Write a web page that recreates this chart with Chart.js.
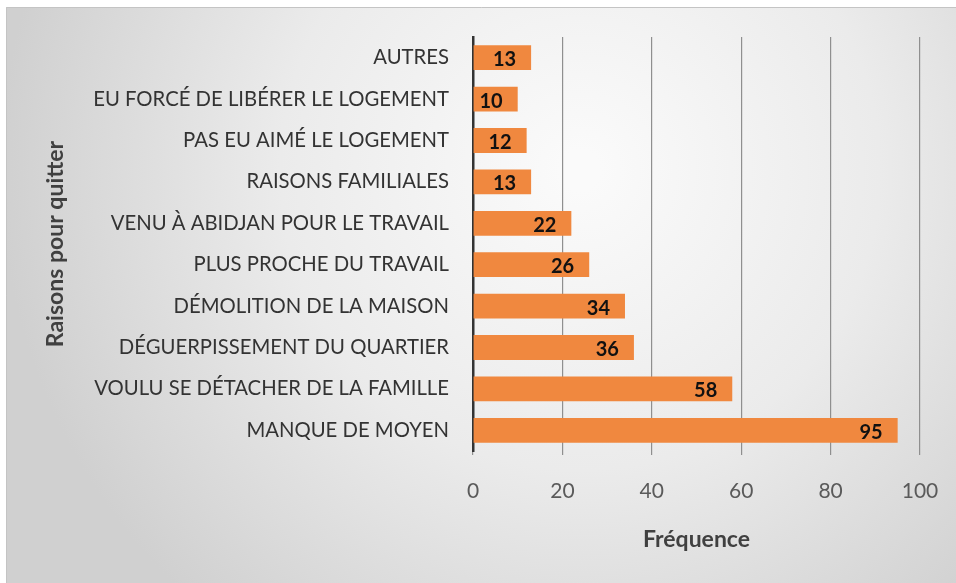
<!DOCTYPE html>
<html><head><meta charset="utf-8">
<script src="https://cdn.jsdelivr.net/npm/chart.js@4.4.1/dist/chart.umd.min.js"></script>
<style>html,body{margin:0;padding:0;background:#fff;}#wrap{width:956px;height:583px;position:relative;}</style>
</head><body><div id="wrap"><canvas id="c" width="956" height="583"></canvas></div>
<script>
const categories = ["AUTRES","EU FORCÉ DE LIBÉRER LE LOGEMENT","PAS EU AIMÉ LE LOGEMENT","RAISONS FAMILIALES","VENU À ABIDJAN POUR LE TRAVAIL","PLUS PROCHE DU TRAVAIL","DÉMOLITION DE LA MAISON","DÉGUERPISSEMENT DU QUARTIER","VOULU SE DÉTACHER DE LA FAMILLE","MANQUE DE MOYEN"];
const frequencies = [13,10,12,13,22,26,34,36,58,95];
const xTicks = [0,20,40,60,80,100];
const xTitle = "Fréquence";
const yTitle = "Raisons pour quitter";

const FONT = "Lato, 'Open Sans', sans-serif";

const bgPlugin = {
  id:'bg',
  beforeDraw(chart){
    const ctx = chart.ctx;
    const W = chart.width, H = chart.height;
    ctx.save();
    ctx.fillStyle = '#ffffff';
    ctx.fillRect(0,0,W,H);
    const g = ctx.createRadialGradient(580,170,20,580,170,580);
    g.addColorStop(0,'#fafafa');
    g.addColorStop(0.5,'#ebebeb');
    g.addColorStop(1,'#d0d0d0');
    ctx.fillStyle = g;
    ctx.fillRect(6,7,W-6,H-7);
    ctx.strokeStyle = '#c4c4c4';
    ctx.lineWidth = 1;
    ctx.beginPath();
    ctx.moveTo(6.5,H);ctx.lineTo(6.5,7.5);ctx.lineTo(W,7.5);
    ctx.stroke();
    ctx.restore();
  }
};

const labelPlugin = {
  id:'vals',
  afterDatasetsDraw(chart){
    const ctx = chart.ctx;
    const meta = chart.getDatasetMeta(0);
    ctx.save();
    ctx.font = "bold 20px " + FONT;
    ctx.fillStyle = '#111';
    ctx.textAlign = 'right';
    ctx.textBaseline = 'middle';
    meta.data.forEach((bar,i)=>{
      ctx.fillText(String(frequencies[i]), bar.x - 15, bar.y + 2);
    });
    ctx.restore();
  }
};

new Chart(document.getElementById('c'), {
  type:'bar',
  data:{ labels: categories, datasets:[{ data: frequencies, backgroundColor:'#F0883F', borderWidth:0, barPercentage:0.6, categoryPercentage:1.0 }]},
  options:{
    indexAxis:'y',
    responsive:false,
    animation:false,
    devicePixelRatio:1,
    layout:{ padding:{ left:36, right:36, top:37, bottom:20 } },
    plugins:{ legend:{display:false}, tooltip:{enabled:false} },
    scales:{
      x:{
        min:0, max:100,
        afterBuildTicks(s){ s.ticks = xTicks.map(v=>({value:v})); },
        afterFit(s){ s.height = 112; s.paddingRight = 0; s.paddingLeft = 0; },
        grid:{ color: ctx => ctx.tick && ctx.tick.value === 0 ? 'rgba(0,0,0,0)' : '#8f8f8f', lineWidth:1.2, drawTicks:true, tickLength:4, tickColor:'#8f8f8f' },
        border:{ display:false },
        ticks:{ color:'#5a5a5a', font:{ family:FONT, size:21 }, padding:24 },
        title:{ display:true, text:xTitle, color:'#404040', font:{ family:FONT, size:23, weight:'bold' }, padding:{ top:4, bottom:10 } }
      },
      y:{
        afterFit(s){ s.width = 473 - 36; },
        grid:{ display:false, drawTicks:false },
        border:{ display:true, color:'#333333', width:2.5 },
        ticks:{ color:'#333333', font:{ family:FONT, size:20.3 }, padding:24 },
        title:{ display:true, text:yTitle, color:'#404040', font:{ family:FONT, size:23, weight:'bold' }, padding:{ top:6, bottom:4 } }
      }
    }
  },
  plugins:[bgPlugin, labelPlugin]
});
</script></body></html>
